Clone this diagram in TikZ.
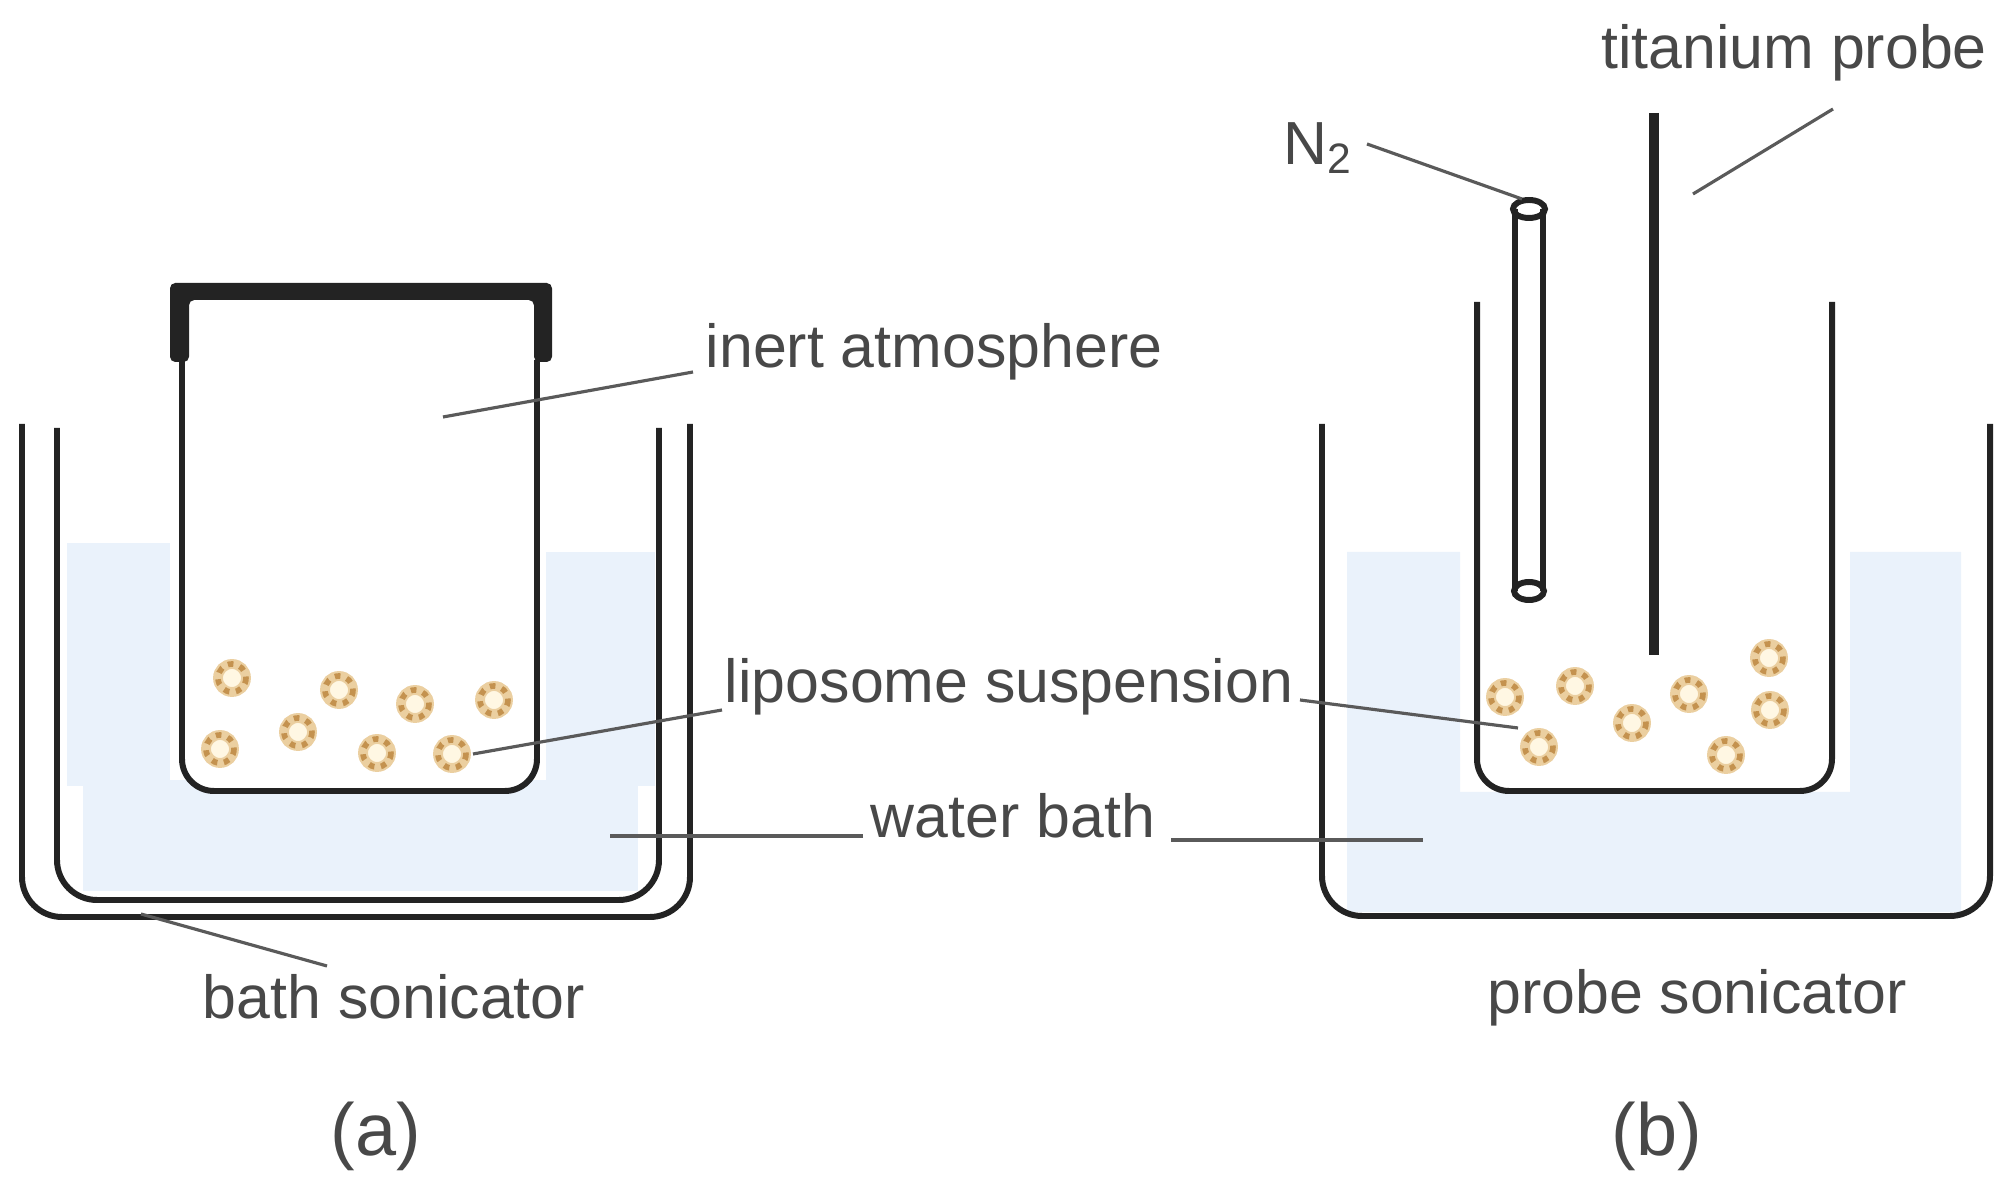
\documentclass[tikz,border=0pt]{standalone}
\usepackage{fontspec}
\setmainfont{Liberation Sans}
\definecolor{waterblue}{HTML}{EAF2FB}
\definecolor{wallgray}{HTML}{232323}
\definecolor{leadgray}{HTML}{5A5A5A}
\definecolor{textgray}{HTML}{484848}
\definecolor{lipotan}{HTML}{EBCFA0}
\definecolor{lipobrown}{HTML}{C4924F}
\definecolor{lipocore}{HTML}{FFF7E3}
\tikzset{
  wall/.style={draw=wallgray,line width=1.7pt},
  leader/.style={draw=leadgray,line width=0.9pt},
  caption/.style={text=textgray,font=\fontsize{17.3}{20}\selectfont,inner sep=0pt},
  panel/.style={text=textgray,font=\fontsize{21}{24}\selectfont,inner sep=0pt},
  lipobase/.style={draw=lipotan,fill=lipocore,line width=2.8pt},
  lipodots/.style={draw=lipobrown,line width=1.6pt,dash pattern=on 1.6pt off 1.9pt}
}
\begin{document}
\begin{tikzpicture}[x=0.01cm,y=-0.01cm]
    \useasboundingbox (0, 0) rectangle (2014, 1192);
    % water (a)
    \fill [waterblue] (67, 543) rectangle (170, 786);
    \fill [waterblue] (546, 552) rectangle (655, 786);
    \fill [waterblue] (83, 780) rectangle (638, 891);
    % water (b)
    \fill [waterblue] (1347, 552) -- (1460, 552) -- (1460, 792) -- (1850, 792) -- (1850, 552)
      -- (1961, 552) -- (1961, 912) -- (1347, 912) -- cycle;
    % tubs (a)
    \draw [wall] (22, 424) -- (22, 877) arc (180:90:40) -- (650, 917) arc (90:0:40) -- (690, 424);
    \draw [wall] (57, 428) -- (57, 860) arc (180:90:40) -- (619, 900) arc (90:0:40) -- (659, 428);
    % jar with lid
    \draw [wall,fill=white] (182, 360) -- (182, 759) arc (180:90:32) -- (505, 791) arc (90:0:32) -- (537, 360);
    \fill [wallgray,rounded corners=1.5pt] (170, 362) -- (170, 283) -- (552, 283) -- (552, 362) -- (534, 362)
      -- (534, 300) -- (189, 300) -- (189, 362) -- cycle;
    % tub and beaker (b)
    \draw [wall] (1322, 424) -- (1322, 876) arc (180:90:40) -- (1950, 916) arc (90:0:40) -- (1990, 424);
    \draw [wall,fill=white] (1477, 302) -- (1477, 759) arc (180:90:32) -- (1800, 791) arc (90:0:32) -- (1832, 302);
    % gas tube
    \draw [wall] (1515, 209) -- (1515, 591);
    \draw [wall] (1543, 209) -- (1543, 591);
    \draw [wall] (1529, 209) ellipse (16 and 9);
    \draw [wall] (1529, 591) ellipse (15 and 9);
    % probe
    \draw [draw=wallgray,line width=2.8pt] (1654, 113) -- (1654, 655);
    % liposomes
    \foreach \x/\y in {232/678, 339/690, 415/704, 494/700, 220/749, 298/732, 377/753, 452/754,
                       1505/697, 1575/686, 1632/723, 1689/694, 1769/658, 1770/710, 1726/755, 1539/747} {
      \draw [lipobase] (\x, \y) circle (14);
      \draw [lipodots] (\x, \y) circle (14);
    }
    % labels
    \node [caption] (titaniumlabel) at (1794, 53) {titanium probe};
    \node [caption] (gaslabel) at (1318, 148) {N\textsubscript{2}};
    \node [caption] (inertlabel) at (934, 352) {inert atmosphere};
    \node [caption] (suspensionlabel) at (1009, 687) {liposome suspension};
    \node [caption] (waterlabel) at (1013, 816) {water bath};
    \node [caption] (bathlabel) at (394, 997) {bath sonicator};
    \node [caption] (probelabel) at (1697, 998) {probe sonicator};
    \node [panel] (panela) at (376, 1136) {(a)};
    \node [panel] (panelb) at (1657, 1136) {(b)};
    % leader ends
    \coordinate (titaniumfrom) at (1833, 109);
    \coordinate (titaniumto) at (1693, 194);
    \coordinate (gasfrom) at (1367, 144);
    \coordinate (gasto) at (1522, 199);
    \coordinate (inertfrom) at (693, 372);
    \coordinate (inertto) at (443, 417);
    \coordinate (suspfroma) at (722, 710);
    \coordinate (susptoa) at (473, 754);
    \coordinate (suspfromb) at (1300, 700);
    \coordinate (susptob) at (1518, 728);
    \coordinate (waterfroma) at (863, 836);
    \coordinate (watertoa) at (610, 836);
    \coordinate (waterfromb) at (1171, 840);
    \coordinate (watertob) at (1423, 840);
    \coordinate (bathfrom) at (327, 966);
    \coordinate (bathto) at (141, 914);
    % leaders
    \draw [leader] (titaniumfrom) -- (titaniumto);
    \draw [leader] (gasfrom) -- (gasto);
    \draw [leader] (inertfrom) -- (inertto);
    \draw [leader] (suspfroma) -- (susptoa);
    \draw [leader] (suspfromb) -- (susptob);
    \draw [leader] (waterfroma) -- (watertoa);
    \draw [leader] (waterfromb) -- (watertob);
    \draw [leader] (bathfrom) -- (bathto);
  \end{tikzpicture}
\end{document}
